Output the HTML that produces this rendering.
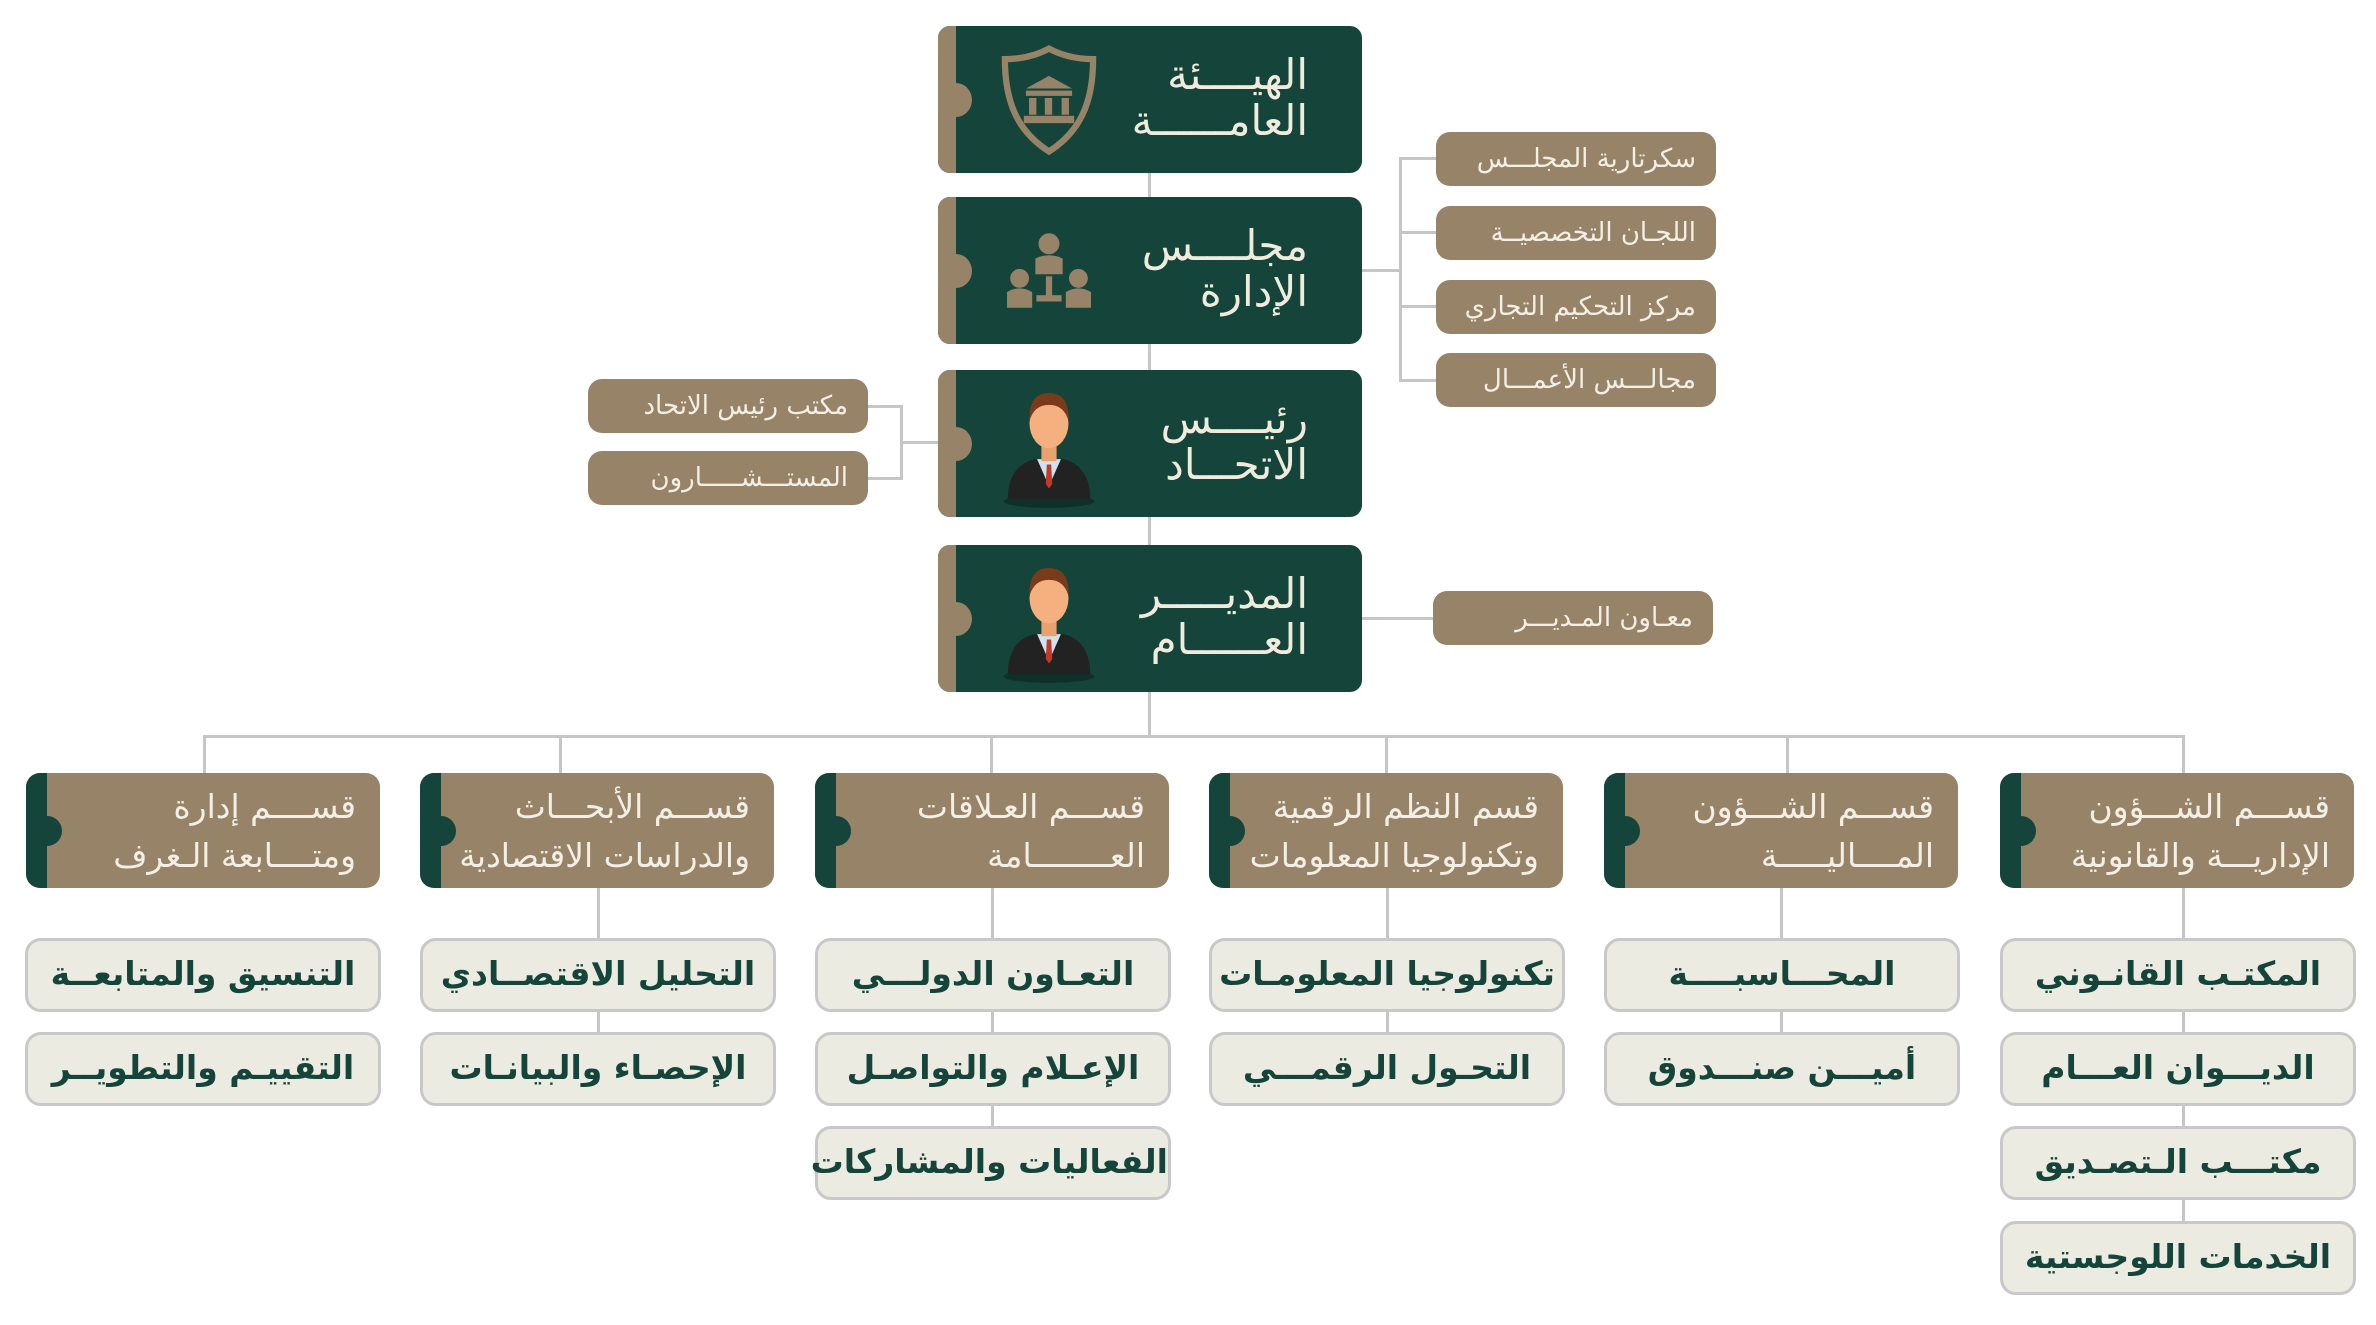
<!DOCTYPE html>
<html><head><meta charset="utf-8"><style>
body{margin:0;width:2376px;height:1325px;background:#fff;position:relative;overflow:hidden;font-family:"DejaVu Sans","Noto Sans CJK SC",sans-serif}
div{box-sizing:border-box}
.l{position:absolute;background:#c6c6c6}
.m{position:absolute;left:938px;width:424px;height:147px;background:#14443a;border-radius:12px;overflow:hidden}
.m .s{position:absolute;left:0;top:0;width:18px;height:100%;background:#968368}
.m .n{position:absolute;left:2px;top:57px;width:32px;height:34px;border-radius:50%;background:#968368}
.m .t{position:absolute;right:54px;top:26px;direction:rtl;text-align:right;color:#f0ebdd;font-size:42px;line-height:46px;white-space:nowrap}
.m svg{position:absolute;left:56px;top:10px}
.b{position:absolute;width:280px;height:54px;background:#968368;border-radius:14px;color:#f3efe4;font-size:26px;line-height:54px;direction:rtl;text-align:right;padding-right:20px;white-space:nowrap}
.d{position:absolute;top:773px;width:354px;height:115px;background:#968368;border-radius:14px;overflow:hidden}
.d .s{position:absolute;left:0;top:0;width:21px;height:100%;background:#14443a}
.d .n{position:absolute;left:6px;top:43px;width:30px;height:30px;border-radius:50%;background:#14443a}
.d .t{position:absolute;right:24px;top:9px;direction:rtl;text-align:right;color:#f3efe4;font-size:33px;line-height:49px;white-space:nowrap}
.u{position:absolute;width:356px;height:74px;background:#ecebe1;border:3px solid #c8c8c8;border-radius:16px;color:#14443a;font-weight:bold;font-size:33px;line-height:66px;text-align:center;direction:rtl;white-space:nowrap}
</style></head><body>
<div class="l" style="left:1148px;top:170px;width:3px;height:568px"></div>
<div class="l" style="left:204px;top:735px;width:1981px;height:3px"></div>
<div class="l" style="left:1362px;top:269px;width:40px;height:3px"></div>
<div class="l" style="left:1399px;top:157px;width:3px;height:225px"></div>
<div class="l" style="left:1399px;top:157px;width:40px;height:3px"></div>
<div class="l" style="left:1399px;top:231px;width:40px;height:3px"></div>
<div class="l" style="left:1399px;top:305px;width:40px;height:3px"></div>
<div class="l" style="left:1399px;top:379px;width:40px;height:3px"></div>
<div class="l" style="left:865px;top:405px;width:38px;height:3px"></div>
<div class="l" style="left:900px;top:405px;width:3px;height:75px"></div>
<div class="l" style="left:865px;top:477px;width:38px;height:3px"></div>
<div class="l" style="left:900px;top:441px;width:40px;height:3px"></div>
<div class="l" style="left:1362px;top:617px;width:73px;height:3px"></div>
<div class="l" style="left:203px;top:735px;width:3px;height:40px"></div>
<div class="l" style="left:559px;top:735px;width:3px;height:40px"></div>
<div class="l" style="left:990px;top:735px;width:3px;height:40px"></div>
<div class="l" style="left:1385px;top:735px;width:3px;height:40px"></div>
<div class="l" style="left:1786px;top:735px;width:3px;height:40px"></div>
<div class="l" style="left:2182px;top:735px;width:3px;height:40px"></div>
<div class="l" style="left:597px;top:886px;width:3px;height:150px"></div>
<div class="l" style="left:991px;top:886px;width:3px;height:245px"></div>
<div class="l" style="left:1386px;top:886px;width:3px;height:150px"></div>
<div class="l" style="left:1780px;top:886px;width:3px;height:150px"></div>
<div class="l" style="left:2182px;top:886px;width:3px;height:340px"></div>

<div class="m" style="top:26px"><div class="s"></div><div class="n"></div>
<svg width="110" height="126" viewBox="0 0 100 120"><path d="M50 12 C65 20 80 22 92 22 C92 66 78 92 50 110 C22 92 8 66 8 22 C20 22 35 20 50 12Z" fill="none" stroke="#968368" stroke-width="6"/><path d="M28 50 L50 38 L72 50Z" fill="#968368"/><rect x="28" y="52" width="44" height="5" fill="#968368"/><rect x="31" y="59" width="7" height="16" fill="#968368"/><rect x="46" y="59" width="7" height="16" fill="#968368"/><rect x="62" y="59" width="7" height="16" fill="#968368"/><rect x="26" y="76" width="48" height="7" fill="#968368"/></svg>
<div class="t">الهيــــئة<br>العامــــــة</div></div>

<div class="m" style="top:197px"><div class="s"></div><div class="n"></div>
<svg width="110" height="126" viewBox="0 0 100 120"><circle cx="50" cy="35" r="10" fill="#968368"/><path d="M37 64 L37 49 Q50 43 63 49 L63 64Z" fill="#968368"/><circle cx="22" cy="68" r="9" fill="#968368"/><path d="M10 96 L10 81 Q22 74 34 81 L34 96Z" fill="#968368"/><circle cx="78" cy="68" r="9" fill="#968368"/><path d="M66 96 L66 81 Q78 74 90 81 L90 96Z" fill="#968368"/><rect x="47" y="66" width="6" height="20" fill="#968368"/><rect x="38" y="84" width="24" height="6" fill="#968368"/></svg>
<div class="t">مجلــــس<br>الإدارة&nbsp;&nbsp;</div></div>

<div class="m" style="top:370px"><div class="s"></div><div class="n"></div>
<svg width="110" height="130" viewBox="0 0 100 120"><ellipse cx="50" cy="112" rx="42" ry="6" fill="#0e3029"/><path d="M12 110 Q12 80 36 73 L64 73 Q88 80 88 110Z" fill="#222"/><path d="M39 73 L50 98 L61 73Z" fill="#cfe2ef"/><path d="M48 78 L52 78 L53 96 L50 100 L47 96Z" fill="#c0392b"/><rect x="43" y="60" width="14" height="15" fill="#e9a26f"/><ellipse cx="50" cy="40" rx="18" ry="23" fill="#f5b07f"/><path d="M32 38 Q31 12 50 12 Q69 12 68 38 Q64 23 50 23 Q36 23 32 38Z" fill="#7a3b1a"/></svg>
<div class="t">رئيــــس<br>الاتحـــاد</div></div>

<div class="m" style="top:545px"><div class="s"></div><div class="n"></div>
<svg width="110" height="130" viewBox="0 0 100 120"><ellipse cx="50" cy="112" rx="42" ry="6" fill="#0e3029"/><path d="M12 110 Q12 80 36 73 L64 73 Q88 80 88 110Z" fill="#222"/><path d="M39 73 L50 98 L61 73Z" fill="#cfe2ef"/><path d="M48 78 L52 78 L53 96 L50 100 L47 96Z" fill="#c0392b"/><rect x="43" y="60" width="14" height="15" fill="#e9a26f"/><ellipse cx="50" cy="40" rx="18" ry="23" fill="#f5b07f"/><path d="M32 38 Q31 12 50 12 Q69 12 68 38 Q64 23 50 23 Q36 23 32 38Z" fill="#7a3b1a"/></svg>
<div class="t">المديـــــر<br>العــــــام</div></div>

<div class="b" style="left:1436px;top:132px">سكرتارية المجلـــس</div>
<div class="b" style="left:1436px;top:206px">اللجـان التخصصيــة</div>
<div class="b" style="left:1436px;top:280px">مركز التحكيم التجاري</div>
<div class="b" style="left:1436px;top:353px">مجالـــس الأعمـــال</div>
<div class="b" style="left:588px;top:379px">مكتب رئيس الاتحاد</div>
<div class="b" style="left:588px;top:451px">المستـــشـــــارون</div>
<div class="b" style="left:1433px;top:591px">معـاون المـديـــر</div>

<div class="d" style="left:26px"><div class="s"></div><div class="n"></div><div class="t">قســــم إدارة<br>ومتــــابعة الـغرف</div></div>
<div class="d" style="left:420px"><div class="s"></div><div class="n"></div><div class="t">قســـم الأبحـــاث<br>والدراسات الاقتصادية</div></div>
<div class="d" style="left:815px"><div class="s"></div><div class="n"></div><div class="t">قســـم العـلاقات<br>العــــــــامة</div></div>
<div class="d" style="left:1209px"><div class="s"></div><div class="n"></div><div class="t">قسم النظم الرقمية<br>وتكنولوجيا المعلومات</div></div>
<div class="d" style="left:1604px"><div class="s"></div><div class="n"></div><div class="t">قســـم الشـــؤون<br>المــــاليـــــة</div></div>
<div class="d" style="left:2000px"><div class="s"></div><div class="n"></div><div class="t">قســـم الشـــؤون<br>الإداريـــة والقانونية</div></div>

<div class="u" style="left:25px;top:938px">التنسيق والمتابعــة</div>
<div class="u" style="left:25px;top:1032px">التقييـم والتطويــر</div>
<div class="u" style="left:420px;top:938px">التحليل الاقتصــادي</div>
<div class="u" style="left:420px;top:1032px">الإحصـاء والبيانـات</div>
<div class="u" style="left:815px;top:938px">التعـاون الدولـــي</div>
<div class="u" style="left:815px;top:1032px">الإعـلام والتواصـل</div>
<div class="u" style="left:815px;top:1126px">الفعاليات والمشاركات</div>
<div class="u" style="left:1209px;top:938px">تكنولوجيا المعلومـات</div>
<div class="u" style="left:1209px;top:1032px">التحـول الرقمـــي</div>
<div class="u" style="left:1604px;top:938px">المحـــاسبــــة</div>
<div class="u" style="left:1604px;top:1032px">أميـــن صنـــدوق</div>
<div class="u" style="left:2000px;top:938px">المكتـب القانـوني</div>
<div class="u" style="left:2000px;top:1032px">الديـــوان العـــام</div>
<div class="u" style="left:2000px;top:1126px">مكتـــب الـتصـديق</div>
<div class="u" style="left:2000px;top:1221px">الخدمات اللوجستية</div>
</body></html>
